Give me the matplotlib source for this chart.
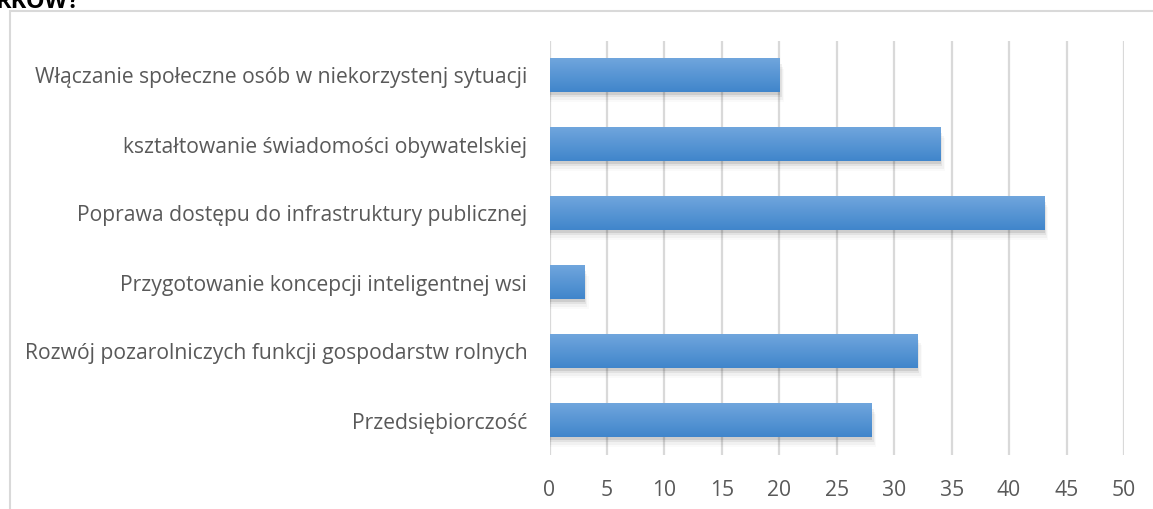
import matplotlib.pyplot as plt
import numpy as np
from matplotlib.patches import Rectangle

categories = [
    'Przedsiębiorczość',
    'Rozwój pozarolniczych funkcji gospodarstw rolnych',
    'Przygotowanie koncepcji inteligentnej wsi',
    'Poprawa dostępu do infrastruktury publicznej',
    'kształtowanie świadomości obywatelskiej',
    'Włączanie społeczne osób w niekorzystenj sytuacji',
]
values = [28, 32, 3, 43, 34, 20]
xticks = [0, 5, 10, 15, 20, 25, 30, 35, 40, 45, 50]

plt.rcParams['font.family'] = ['Open Sans', 'DejaVu Sans']

W, H = 1153, 509
fig = plt.figure(figsize=(W / 100, H / 100), dpi=100)
ax = fig.add_axes([549.5 / W, 1 - 455 / H, (1124 - 549.5) / W, 414 / H])

# chart frame
fig.patches.append(Rectangle((10 / W, -0.05), 1.2, 1 - 11 / H + 0.05,
                             transform=fig.transFigure, fill=False,
                             edgecolor='#D9D9D9', linewidth=1.5))
fig.text(-0.004, 1 + 10 / H, 'RKÓW?', fontsize=17, fontweight='bold',
         va='top', ha='left', color='black')

y = np.arange(len(categories))
bh = 0.48
bars = ax.barh(y, values, height=bh, color='none', zorder=3)

grad = np.linspace(0, 1, 100).reshape(-1, 1)
top = np.array([0x70, 0xA6, 0xDD]) / 255
bot = np.array([0x40, 0x85, 0xCB]) / 255
img = (top * (1 - grad[..., None]) + bot * grad[..., None])
for b in bars:
    x0, y0 = b.get_x(), b.get_y()
    w, h = b.get_width(), b.get_height()
    # soft shadow, mostly below the bar
    for k, a in enumerate([0.09, 0.06, 0.035, 0.02]):
        d = 0.04 + k * 0.035
        ax.add_patch(Rectangle((x0, y0 - d), w + 0.1 + k * 0.1, h, facecolor='black',
                               alpha=a, edgecolor='none', zorder=2))
    ax.imshow(img, extent=(x0, x0 + w, y0, y0 + h), aspect='auto',
              origin='upper', zorder=4)

ax.set_xlim(0, 50)
ax.set_ylim(-0.5, len(categories) - 0.5)
ax.set_xticks(xticks)
ax.set_yticks(y)
ax.set_yticklabels(categories)
ax.grid(axis='x', color='#D9D9D9', linewidth=1.6, zorder=0)
ax.set_axisbelow(True)
for s in ax.spines.values():
    s.set_visible(False)
ax.tick_params(axis='both', length=0, labelcolor='#595959', labelsize=15.2)
ax.tick_params(axis='x', pad=18)
ax.tick_params(axis='y', pad=16)

fig.savefig('out.png', dpi=100)
